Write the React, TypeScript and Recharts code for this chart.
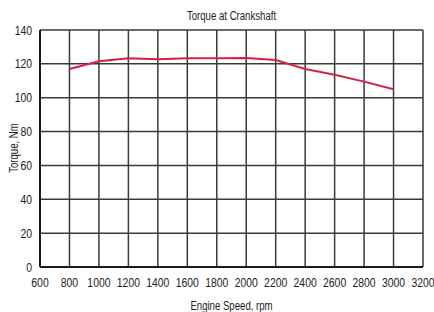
import { CartesianGrid, Line, LineChart, XAxis, YAxis } from "recharts";

const rpm = [800, 1000, 1200, 1400, 1600, 1800, 2000, 2200, 2400, 2600, 2800, 3000];
const torque = [117, 121.5, 123.3, 122.7, 123.3, 123.3, 123.5, 122.3, 117, 113.6, 109.5, 105];
const xTicks = [600, 800, 1000, 1200, 1400, 1600, 1800, 2000, 2200, 2400, 2600, 2800, 3000, 3200];
const yTicks = [0, 20, 40, 60, 80, 100, 120, 140];

const font = "'Liberation Sans', Arial, sans-serif";
const squeeze = 0.8;

// condensed-looking tick labels
function XTick({ x, y, payload }: any) {
  return (
    <text
      transform={`translate(${x},${y + 12}) scale(${squeeze},1)`}
      textAnchor="middle"
      fill="#222"
      fontSize={13}
      fontFamily={font}
    >
      {payload.value}
    </text>
  );
}

function YTick({ x, y, payload }: any) {
  return (
    <text
      transform={`translate(${x},${y + 4.5}) scale(${squeeze},1)`}
      textAnchor="end"
      fill="#222"
      fontSize={13}
      fontFamily={font}
    >
      {payload.value}
    </text>
  );
}

const labelStyle = {
  position: "absolute" as const,
  textAlign: "center" as const,
  fontSize: 12,
  fontFamily: font,
  color: "#222",
};

export default function App() {
  const chartData = rpm.map((r, i) => ({ rpm: r, torque: torque[i] }));

  return (
    <div style={{ position: "absolute", left: 0, top: 0, width: 434, height: 312, background: "#fff" }}>
      <div style={{ ...labelStyle, top: 9, left: 40, width: 383, transform: `scaleX(${squeeze})` }}>
        Torque at Crankshaft
      </div>
      <div style={{ ...labelStyle, top: 299, left: 40, width: 383, transform: `scaleX(${squeeze})` }}>
        Engine Speed, rpm
      </div>
      <div style={{ ...labelStyle, top: 141, left: -36, width: 100, transform: `rotate(-90deg) scaleX(${squeeze})` }}>
        Torque, Nm
      </div>
      <LineChart width={434} height={312} data={chartData} margin={{ top: 30, right: 11, bottom: 0, left: 0 }}>
        <CartesianGrid stroke="#3a3a3a" strokeWidth={1.5} />
        <XAxis
          dataKey="rpm"
          type="number"
          domain={[600, 3200]}
          ticks={xTicks}
          interval={0}
          tickLine={false}
          axisLine={{ stroke: "#000", strokeWidth: 1.5 }}
          tick={<XTick />}
          height={45}
        />
        <YAxis
          type="number"
          domain={[0, 140]}
          ticks={yTicks}
          interval={0}
          tickLine={false}
          axisLine={{ stroke: "#000", strokeWidth: 1.5 }}
          tick={<YTick />}
          width={40}
        />
        <Line
          type="linear"
          dataKey="torque"
          stroke="#d91f48"
          strokeWidth={2}
          dot={false}
          isAnimationActive={false}
        />
      </LineChart>
    </div>
  );
}
